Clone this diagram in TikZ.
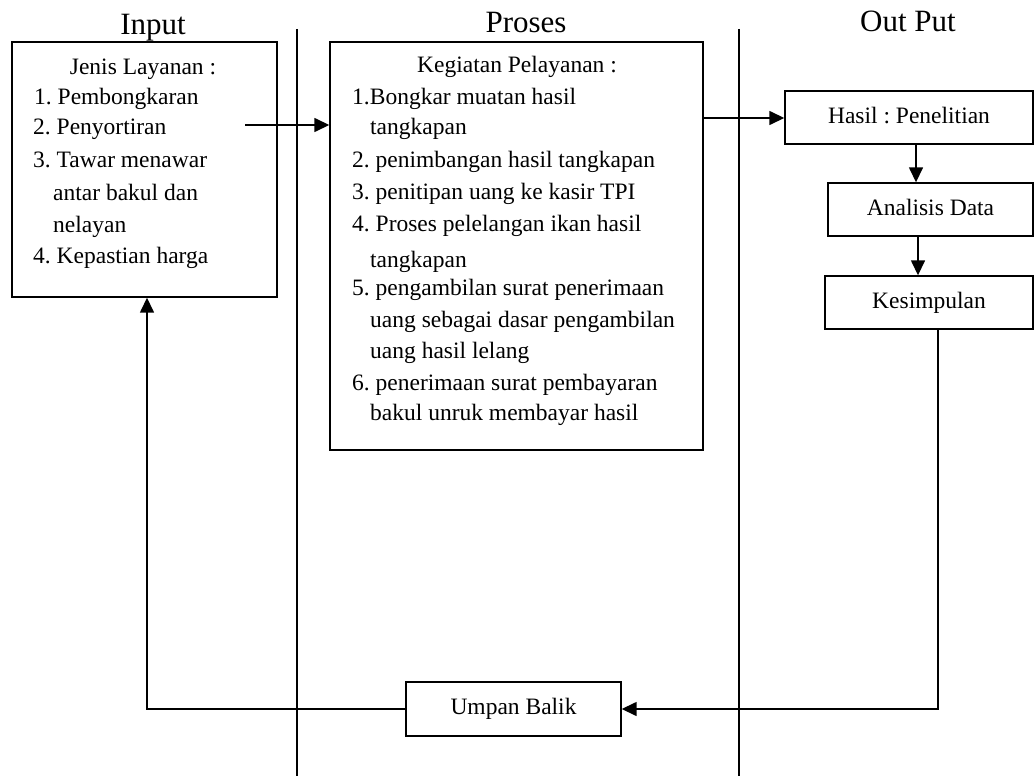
\documentclass[tikz,border=0pt]{standalone}
\usepackage{fontspec}
\setmainfont{Liberation Serif}
\usetikzlibrary{arrows.meta}
\frenchspacing
\begin{document}
\begin{tikzpicture}[x=1pt,y=-1pt,
  box/.style={draw, line width=1.4pt, inner sep=0pt, font=\fontsize{23.5}{28}\selectfont,
    text height=16pt, text depth=5pt},
  txt/.style={inner sep=0pt, anchor=base west, font=\fontsize{23.5}{28}\selectfont},
  ctxt/.style={inner sep=0pt, anchor=base, font=\fontsize{23.5}{28}\selectfont},
  title/.style={inner sep=0pt, anchor=base, font=\fontsize{31}{36}\selectfont},
  arr/.style={line width=1.5pt, -{Triangle[length=15pt,width=14pt]}},
  lane/.style={line width=1.4pt}]
\useasboundingbox (0,0) rectangle (1034,776);

% titles
\node[title] (tin) at (153,35) {Input};
\node[title] (tpr) at (526,33) {Proses};
\node[title] (tout) at (908,32) {Out Put};

% lane separators
\coordinate (v1t) at (297,29);
\coordinate (v1b) at (297,776);
\coordinate (v2t) at (739,29);
\coordinate (v2b) at (739,776);
\draw[lane] (v1t) -- (v1b);
\draw[lane] (v2t) -- (v2b);

% boxes
\node[box, minimum width=265pt, minimum height=255pt] (inbox) at (144.5,169.5) {};
\node[box, minimum width=373pt, minimum height=408pt] (procbox) at (516.5,246) {};
\node[box, minimum width=248pt, minimum height=53pt] (hasil) at (909,117.5) {Hasil : Penelitian};
\node[box, minimum width=205pt, minimum height=53pt] (analisis) at (930.5,209.5) {Analisis Data};
\node[box, minimum width=208pt, minimum height=53pt] (kesimpulan) at (929,302.5) {Kesimpulan};
\node[box, minimum width=215pt, minimum height=54pt] (umpan) at (513.5,709) {Umpan Balik};

% input text
\node[ctxt] (i0) at (143,75) {Jenis Layanan :};
\node[txt] (i1) at (34,105) {1. Pembongkaran};
\node[txt] (i2) at (33,135) {2. Penyortiran};
\node[txt] (i3) at (33,167) {3. Tawar menawar};
\node[txt] (i4) at (53,200) {antar bakul dan};
\node[txt] (i5) at (53,232) {nelayan};
\node[txt] (i6) at (33,263) {4. Kepastian harga};

% process text
\node[ctxt] (p0) at (517,73) {Kegiatan Pelayanan :};
\node[txt] (p1) at (352,105) {1.Bongkar muatan hasil};
\node[txt] (p2) at (370,135) {tangkapan};
\node[txt] (p3) at (352,167) {2. penimbangan hasil tangkapan};
\node[txt] (p4) at (352,199) {3. penitipan uang ke kasir TPI};
\node[txt] (p5) at (352,231) {4. Proses pelelangan ikan hasil};
\node[txt] (p6) at (370,267) {tangkapan};
\node[txt] (p7) at (352,295) {5. pengambilan surat penerimaan};
\node[txt] (p8) at (370,327) {uang sebagai dasar pengambilan};
\node[txt] (p9) at (370,358) {uang hasil lelang};
\node[txt] (p10) at (352,390) {6. penerimaan surat pembayaran};
\node[txt] (p11) at (370,420) {bakul unruk membayar hasil};

% connectors
\coordinate (a1) at (245,125);
\coordinate (a2) at (703,118);
\draw[arr] (a1) -- (a1 -| procbox.west);
\draw[arr] (a2) -- (a2 -| hasil.west);
\draw[arr] ([xshift=7pt]hasil.south) -- ([xshift=7pt]hasil.south |- analisis.north);
\draw[arr] ([xshift=-12.5pt]analisis.south) -- ([xshift=-12.5pt]analisis.south |- kesimpulan.north);
\draw[arr] ([xshift=9pt]kesimpulan.south) |- (umpan.east);
\draw[arr] (umpan.west) -| ([xshift=2.5pt]inbox.south);
\end{tikzpicture}
\end{document}
